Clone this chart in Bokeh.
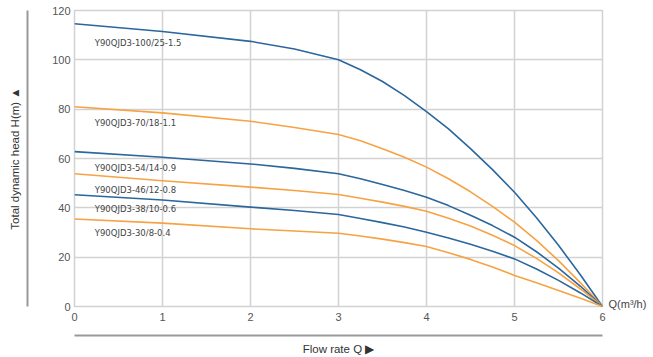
from bokeh.plotting import figure
from bokeh.models import LinearAxis, FixedTicker, Range1d, Grid
from bokeh.embed import file_html
from bokeh.resources import INLINE
from bokeh.core.properties import value

# ---- data ----
flow = [0, 1, 2, 2.5, 3, 3.25, 3.5, 3.75, 4, 4.25, 4.5, 4.75, 5, 5.25, 5.5, 5.75, 6]
head_100_25 = [114.6, 111.5, 107.5, 104.4, 100.0, 96.0, 91.2, 85.5, 79.0, 72.0, 64.0, 55.5, 46.3, 36.0, 24.8, 12.8, 0]
head_70_18 = [81.0, 78.5, 75.1, 72.6, 69.7, 67.2, 64.0, 60.5, 56.5, 51.8, 46.5, 40.6, 34.2, 26.8, 18.6, 9.6, 0]
head_54_14 = [62.8, 60.5, 57.8, 56.0, 53.8, 51.8, 49.5, 47.0, 44.3, 40.9, 37.0, 32.8, 28.1, 22.2, 15.6, 8.2, 0]
head_46_12 = [53.8, 51.0, 48.4, 47.0, 45.4, 43.9, 42.3, 40.6, 38.6, 35.8, 32.6, 28.9, 24.7, 19.5, 13.6, 7.1, 0]
head_38_10 = [45.3, 43.2, 40.3, 38.9, 37.3, 35.7, 34.0, 32.2, 30.1, 27.8, 25.2, 22.4, 19.3, 15.2, 10.6, 5.5, 0]
head_30_8 = [35.5, 33.8, 31.5, 30.6, 29.7, 28.6, 27.3, 25.9, 24.3, 21.8, 19.1, 16.0, 12.6, 9.6, 6.5, 3.3, 0]
model_names = ["Y90QJD3-100/25-1.5", "Y90QJD3-70/18-1.1", "Y90QJD3-54/14-0.9",
               "Y90QJD3-46/12-0.8", "Y90QJD3-38/10-0.6", "Y90QJD3-30/8-0.4"]
x_ticks = [0, 1, 2, 3, 4, 5, 6]
y_ticks = [0, 20, 40, 60, 80, 100, 120]
x_title = "Flow rate Q \u25B6"
y_title = "Total dynamic head H(m) \u25B2"
unit_label = "Q(m\u00B3/h)"

BLUE = "#2b669c"
ORANGE = "#f7a243"
GRID = "#d2d2d2"
TICK_FONT = "Liberation Sans"

p = figure(width=653, height=357, output_backend="svg", toolbar_location=None,
           x_range=Range1d(0, 6), y_range=Range1d(0, 120),
           x_axis_location=None, y_axis_location=None,
           min_border_left=74, min_border_right=51, min_border_top=10, min_border_bottom=51)
p.outline_line_color = GRID
p.outline_line_width = 1.5

# inner axes with tick labels
ya = LinearAxis(ticker=FixedTicker(ticks=y_ticks), axis_line_color=None,
                major_tick_line_color=None, minor_tick_line_color=None,
                major_tick_out=0, major_tick_in=0, major_label_standoff=4,
                major_label_text_font=TICK_FONT, major_label_text_font_size="11px",
                major_label_text_color="#555555")
p.add_layout(ya, "left")
xa = LinearAxis(ticker=FixedTicker(ticks=x_ticks), axis_line_color=None,
                major_tick_line_color=None, minor_tick_line_color=None,
                major_tick_out=0, major_tick_in=0, major_label_standoff=6,
                major_label_text_font=TICK_FONT, major_label_text_font_size="11px",
                major_label_text_color="#555555")
p.add_layout(xa, "below")

# spacer axes (one invisible tick gives them a width)
def spacer(size, tick):
    return LinearAxis(ticker=FixedTicker(ticks=[tick]), axis_line_color=None,
                      major_tick_line_color=None, minor_tick_line_color=None,
                      major_tick_out=size, major_tick_in=0, major_label_standoff=0,
                      major_label_text_font_size="0px", major_label_text_color=None)
p.add_layout(spacer(22, 60), "left")
p.add_layout(spacer(12, 3), "below")

# outer axes with line and title
def outer(label, standoff, tick):
    return LinearAxis(ticker=FixedTicker(ticks=[tick]), axis_line_color="#999999", axis_line_width=2,
                      major_tick_line_color=None, minor_tick_line_color=None,
                      major_tick_out=0, major_tick_in=0, major_label_standoff=0,
                      major_label_text_font_size="0px", major_label_text_color=None,
                      axis_label=label, axis_label_standoff=standoff,
                      axis_label_text_font=TICK_FONT, axis_label_text_font_size="11.5px",
                      axis_label_text_font_style="normal", axis_label_text_color="#333333")
p.add_layout(outer(y_title, 7, 60), "left")
p.add_layout(outer(x_title, 7, 3), "below")

# right axis carrying the unit label next to the x end
ra = LinearAxis(ticker=FixedTicker(ticks=[1.2]), major_label_overrides={1.2: unit_label},
                axis_line_color=None, major_tick_line_color=None, minor_tick_line_color=None,
                major_tick_out=0, major_tick_in=0, major_label_standoff=6,
                major_label_text_font=TICK_FONT, major_label_text_font_size="11px",
                major_label_text_color="#444444")
p.add_layout(ra, "right")

p.xgrid.visible = False
p.ygrid.visible = False
p.add_layout(Grid(dimension=0, ticker=FixedTicker(ticks=x_ticks), grid_line_color=GRID, grid_line_width=1.5))
p.add_layout(Grid(dimension=1, ticker=FixedTicker(ticks=y_ticks), grid_line_color=GRID, grid_line_width=1.5))

series = [head_100_25, head_70_18, head_54_14, head_46_12, head_38_10, head_30_8]
colors = [BLUE, ORANGE, BLUE, ORANGE, BLUE, ORANGE]
for s, c in zip(series, colors):
    p.line(flow, s, line_color=c, line_width=1.6, line_join="round")

label_y = [107.0, 74.2, 56.3, 47.4, 39.7, 29.6]
p.text(x=[0.23] * len(model_names), y=label_y, text=model_names,
       text_font=value("DejaVu Sans"), text_font_size="8.5px",
       text_color="#444444", text_baseline="middle", text_align="left")

open("out.html", "w").write(file_html(p, INLINE))
